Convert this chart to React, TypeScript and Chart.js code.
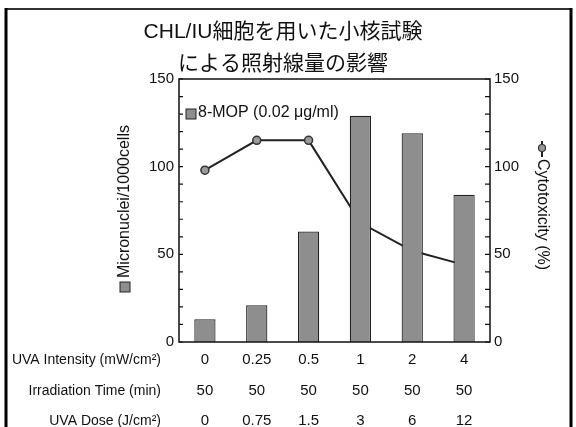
import React, { useEffect, useRef } from "react";
import { Chart, registerables } from "chart.js";

Chart.register(...registerables);

const uvaIntensity = ["0", "0.25", "0.5", "1", "2", "4"];
const irradiationTime = ["50", "50", "50", "50", "50", "50"];
const uvaDose = ["0", "0.75", "1.5", "3", "6", "12"];
const micronuclei = [13, 21, 63, 129, 119, 84];
const cytotoxicity = [98, 115, 115, 68, 52, 44];
const titleLines = ["CHL/IU細胞を用いた小核試験", "による照射線量の影響"];
const rowLabels = ["UVA Intensity (mW/cm²)", "Irradiation Time (min)", "UVA Dose (J/cm²)"];
const legendLabel = "8-MOP (0.02 μg/ml)";
const leftTitle = "Micronuclei/1000cells";
const rightTitle = "Cytotoxicity (%)";

const FONT = '"Liberation Sans", Arial, "Noto Sans CJK JP", sans-serif';
const BAR_FILL = "#8e8e8e";
const INK = "#111";

const decorPlugin = {
  id: "decor",
  afterDraw(chart: any) {
    const ctx = chart.ctx as CanvasRenderingContext2D;
    const area = chart.chartArea;
    const x = chart.scales.x;
    const y = chart.scales.y;
    ctx.save();

    // outer frame
    ctx.strokeStyle = "#333";
    ctx.lineWidth = 2;
    ctx.beginPath();
    ctx.moveTo(6, 9);
    ctx.lineTo(571, 9);
    ctx.stroke();
    ctx.strokeStyle = "#000";
    ctx.lineWidth = 3;
    ctx.beginPath();
    ctx.moveTo(6, 8);
    ctx.lineTo(6, 427);
    ctx.moveTo(571, 8);
    ctx.lineTo(571, 427);
    ctx.stroke();

    // title
    ctx.fillStyle = INK;
    ctx.textAlign = "center";
    ctx.textBaseline = "middle";
    ctx.font = `21px ${FONT}`;
    ctx.fillText(titleLines[0], 283, 32);
    ctx.fillText(titleLines[1], 283, 64);

    // plot frame
    ctx.strokeStyle = "#111";
    ctx.lineWidth = 1.5;
    ctx.strokeRect(area.left, area.top, area.right - area.left, area.bottom - area.top);

    // inward minor ticks
    ctx.lineWidth = 1.2;
    ctx.beginPath();
    for (let v = 0; v <= 150; v += 10) {
      const py = y.getPixelForValue(v);
      ctx.moveTo(area.left, py);
      ctx.lineTo(area.left + 4, py);
      ctx.moveTo(area.right - 5, py);
      ctx.lineTo(area.right, py);
    }
    ctx.stroke();

    // in-plot legend
    ctx.fillStyle = BAR_FILL;
    ctx.fillRect(186, 109, 10, 10);
    ctx.strokeStyle = "#222";
    ctx.lineWidth = 1;
    ctx.strokeRect(186, 109, 10, 10);
    ctx.fillStyle = INK;
    ctx.textAlign = "left";
    ctx.textBaseline = "middle";
    ctx.font = `16px ${FONT}`;
    ctx.fillText(legendLabel, 198, 113);

    // left axis title with bar symbol
    ctx.fillStyle = BAR_FILL;
    ctx.fillRect(120, 282, 10, 10);
    ctx.strokeRect(120, 282, 10, 10);
    ctx.save();
    ctx.translate(125, 278);
    ctx.rotate(-Math.PI / 2);
    ctx.fillStyle = INK;
    ctx.textAlign = "left";
    ctx.textBaseline = "middle";
    ctx.font = `16px ${FONT}`;
    ctx.fillText(leftTitle, 0, 0);
    ctx.restore();

    // right axis title with line+marker symbol
    ctx.strokeStyle = "#222";
    ctx.lineWidth = 2;
    ctx.beginPath();
    ctx.moveTo(542, 141);
    ctx.lineTo(542, 157);
    ctx.stroke();
    ctx.beginPath();
    ctx.arc(542, 148, 3.5, 0, Math.PI * 2);
    ctx.fillStyle = "#9a9a9a";
    ctx.fill();
    ctx.lineWidth = 1.2;
    ctx.strokeStyle = "#333";
    ctx.stroke();
    ctx.save();
    ctx.translate(542, 159);
    ctx.rotate(Math.PI / 2);
    ctx.fillStyle = INK;
    ctx.textAlign = "left";
    ctx.textBaseline = "middle";
    ctx.font = `16px ${FONT}`;
    ctx.fillText(rightTitle, 0, 0);
    ctx.restore();

    // table below axis
    const rows = [uvaIntensity, irradiationTime, uvaDose];
    const rowY = [360, 391, 421];
    ctx.fillStyle = INK;
    ctx.textBaseline = "middle";
    rows.forEach((vals, r) => {
      ctx.font = `14px ${FONT}`;
      ctx.textAlign = "right";
      ctx.fillText(rowLabels[r], 161, rowY[r]);
      ctx.font = `15px ${FONT}`;
      ctx.textAlign = "center";
      vals.forEach((v, i) => {
        ctx.fillText(v, x.getPixelForValue(i), rowY[r]);
      });
    });

    ctx.restore();
  },
};

export default function App() {
  const canvasRef = useRef<HTMLCanvasElement | null>(null);

  useEffect(() => {
    document.body.style.margin = "0";
    const canvas = canvasRef.current;
    if (!canvas) return;
    const tickFont = { family: FONT, size: 15 };
    const chart = new Chart(canvas, {
      type: "bar",
      data: {
        labels: uvaIntensity,
        datasets: [
          {
            type: "bar",
            label: "8-MOP (0.02 μg/ml)",
            data: micronuclei,
            backgroundColor: BAR_FILL,
            borderColor: "#222",
            borderWidth: 1.2,
            barPercentage: 0.41,
            categoryPercentage: 1.0,
            yAxisID: "y",
          },
          {
            type: "line",
            label: "Cytotoxicity (%)",
            data: cytotoxicity,
            borderColor: "#222",
            borderWidth: 2,
            tension: 0,
            pointRadius: 4,
            pointBackgroundColor: "#9a9a9a",
            pointBorderColor: "#333",
            pointBorderWidth: 1.5,
            yAxisID: "y1",
          },
        ],
      },
      options: {
        responsive: false,
        animation: false,
        layout: { padding: { left: 0, right: 0, top: 79, bottom: 85 } },
        plugins: {
          legend: { display: false },
          title: { display: false },
          tooltip: { enabled: false },
        },
        scales: {
          x: { display: false, offset: true },
          y: {
            position: "left",
            min: 0,
            max: 150,
            grid: { display: false, drawTicks: false },
            border: { display: false },
            ticks: {
              stepSize: 10,
              autoSkip: false,
              padding: 5,
              color: INK,
              font: tickFont,
              callback: (v: any) => (Number(v) % 50 === 0 ? String(v) : ""),
            },
            afterFit: (s: any) => {
              s.width = 179;
            },
          },
          y1: {
            position: "right",
            min: 0,
            max: 150,
            grid: { display: false, drawTicks: false },
            border: { display: false },
            ticks: {
              stepSize: 10,
              autoSkip: false,
              padding: 4,
              color: INK,
              font: tickFont,
              callback: (v: any) => (Number(v) % 50 === 0 ? String(v) : ""),
            },
            afterFit: (s: any) => {
              s.width = 86;
            },
          },
        },
      },
      plugins: [decorPlugin],
    } as any);
    return () => chart.destroy();
  }, []);

  return (
    <div style={{ width: 576, height: 427, background: "#fff" }}>
      <canvas ref={canvasRef} width={576} height={427} style={{ display: "block" }} />
    </div>
  );
}
